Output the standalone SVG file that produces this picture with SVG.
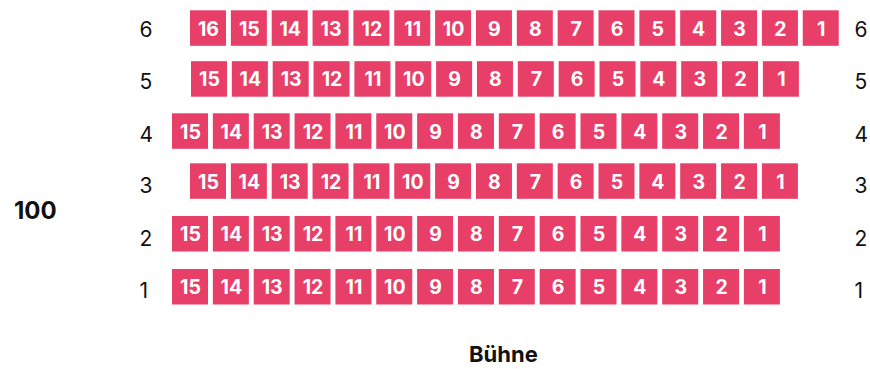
<svg xmlns="http://www.w3.org/2000/svg" width="870" height="369" viewBox="0 0 870 369">
<style>
.seat{fill:#e73f67}
.seat text{fill:#fff;font-family:Inter,"Liberation Sans",sans-serif;font-weight:700;font-size:19.5px;text-anchor:middle}
.lbl{fill:#111;font-family:Inter,"Liberation Sans",sans-serif;font-size:21px}
.ttl{fill:#111;font-family:Inter,"Liberation Sans",sans-serif;font-weight:700}
</style>
<defs><rect id="sq" width="36" height="35.5" fill="#e73f67"/></defs>
<rect width="870" height="369" fill="#fff"/>
<g id="row-labels">
<text class="lbl" x="139.5" y="36.7">6</text><text class="lbl" x="854.5" y="36.7">6</text>
<text class="lbl" x="139.5" y="89.3">5</text><text class="lbl" x="854.5" y="89.3">5</text>
<text class="lbl" x="139.5" y="141.7">4</text><text class="lbl" x="854.5" y="141.7">4</text>
<text class="lbl" x="139.5" y="193.3">3</text><text class="lbl" x="854.5" y="193.3">3</text>
<text class="lbl" x="139.5" y="246">2</text><text class="lbl" x="854.5" y="246">2</text>
<text class="lbl" x="139.5" y="298.3">1</text><text class="lbl" x="854.5" y="298.3">1</text>
</g>
<text id="block" class="ttl" x="14" y="219.3" font-size="24">100</text>
<text id="stage" class="ttl" x="469" y="361.7" font-size="22">Bühne</text>
<g id="row6" transform="translate(0,10.3)">
<g id="r6s16" class="seat" transform="translate(190,0)"><use href="#sq"/><text x="18.5" y="25.3">16</text></g>
<g id="r6s15" class="seat" transform="translate(230.85,0)"><use href="#sq"/><text x="18.5" y="25.3">15</text></g>
<g id="r6s14" class="seat" transform="translate(271.7,0)"><use href="#sq"/><text x="18.5" y="25.3">14</text></g>
<g id="r6s13" class="seat" transform="translate(312.55,0)"><use href="#sq"/><text x="18.5" y="25.3">13</text></g>
<g id="r6s12" class="seat" transform="translate(353.4,0)"><use href="#sq"/><text x="18.5" y="25.3">12</text></g>
<g id="r6s11" class="seat" transform="translate(394.25,0)"><use href="#sq"/><text x="18.5" y="25.3">11</text></g>
<g id="r6s10" class="seat" transform="translate(435.1,0)"><use href="#sq"/><text x="18.5" y="25.3">10</text></g>
<g id="r6s9" class="seat" transform="translate(475.95,0)"><use href="#sq"/><text x="18.5" y="25.3">9</text></g>
<g id="r6s8" class="seat" transform="translate(516.8,0)"><use href="#sq"/><text x="18.5" y="25.3">8</text></g>
<g id="r6s7" class="seat" transform="translate(557.65,0)"><use href="#sq"/><text x="18.5" y="25.3">7</text></g>
<g id="r6s6" class="seat" transform="translate(598.5,0)"><use href="#sq"/><text x="18.5" y="25.3">6</text></g>
<g id="r6s5" class="seat" transform="translate(639.35,0)"><use href="#sq"/><text x="18.5" y="25.3">5</text></g>
<g id="r6s4" class="seat" transform="translate(680.2,0)"><use href="#sq"/><text x="18.5" y="25.3">4</text></g>
<g id="r6s3" class="seat" transform="translate(721.05,0)"><use href="#sq"/><text x="18.5" y="25.3">3</text></g>
<g id="r6s2" class="seat" transform="translate(761.9,0)"><use href="#sq"/><text x="18.5" y="25.3">2</text></g>
<g id="r6s1" class="seat" transform="translate(802.75,0)"><use href="#sq"/><text x="18.5" y="25.3">1</text></g>
</g>
<g id="row5" transform="translate(1,61.2)">
<g id="r5s15" class="seat" transform="translate(190,0)"><use href="#sq"/><text x="18.5" y="25.3">15</text></g>
<g id="r5s14" class="seat" transform="translate(230.85,0)"><use href="#sq"/><text x="18.5" y="25.3">14</text></g>
<g id="r5s13" class="seat" transform="translate(271.7,0)"><use href="#sq"/><text x="18.5" y="25.3">13</text></g>
<g id="r5s12" class="seat" transform="translate(312.55,0)"><use href="#sq"/><text x="18.5" y="25.3">12</text></g>
<g id="r5s11" class="seat" transform="translate(353.4,0)"><use href="#sq"/><text x="18.5" y="25.3">11</text></g>
<g id="r5s10" class="seat" transform="translate(394.25,0)"><use href="#sq"/><text x="18.5" y="25.3">10</text></g>
<g id="r5s9" class="seat" transform="translate(435.1,0)"><use href="#sq"/><text x="18.5" y="25.3">9</text></g>
<g id="r5s8" class="seat" transform="translate(475.95,0)"><use href="#sq"/><text x="18.5" y="25.3">8</text></g>
<g id="r5s7" class="seat" transform="translate(516.8,0)"><use href="#sq"/><text x="18.5" y="25.3">7</text></g>
<g id="r5s6" class="seat" transform="translate(557.65,0)"><use href="#sq"/><text x="18.5" y="25.3">6</text></g>
<g id="r5s5" class="seat" transform="translate(598.5,0)"><use href="#sq"/><text x="18.5" y="25.3">5</text></g>
<g id="r5s4" class="seat" transform="translate(639.35,0)"><use href="#sq"/><text x="18.5" y="25.3">4</text></g>
<g id="r5s3" class="seat" transform="translate(680.2,0)"><use href="#sq"/><text x="18.5" y="25.3">3</text></g>
<g id="r5s2" class="seat" transform="translate(721.05,0)"><use href="#sq"/><text x="18.5" y="25.3">2</text></g>
<g id="r5s1" class="seat" transform="translate(761.9,0)"><use href="#sq"/><text x="18.5" y="25.3">1</text></g>
</g>
<g id="row4" transform="translate(-18,113.3)">
<g id="r4s15" class="seat" transform="translate(190,0)"><use href="#sq"/><text x="18.5" y="25.3">15</text></g>
<g id="r4s14" class="seat" transform="translate(230.85,0)"><use href="#sq"/><text x="18.5" y="25.3">14</text></g>
<g id="r4s13" class="seat" transform="translate(271.7,0)"><use href="#sq"/><text x="18.5" y="25.3">13</text></g>
<g id="r4s12" class="seat" transform="translate(312.55,0)"><use href="#sq"/><text x="18.5" y="25.3">12</text></g>
<g id="r4s11" class="seat" transform="translate(353.4,0)"><use href="#sq"/><text x="18.5" y="25.3">11</text></g>
<g id="r4s10" class="seat" transform="translate(394.25,0)"><use href="#sq"/><text x="18.5" y="25.3">10</text></g>
<g id="r4s9" class="seat" transform="translate(435.1,0)"><use href="#sq"/><text x="18.5" y="25.3">9</text></g>
<g id="r4s8" class="seat" transform="translate(475.95,0)"><use href="#sq"/><text x="18.5" y="25.3">8</text></g>
<g id="r4s7" class="seat" transform="translate(516.8,0)"><use href="#sq"/><text x="18.5" y="25.3">7</text></g>
<g id="r4s6" class="seat" transform="translate(557.65,0)"><use href="#sq"/><text x="18.5" y="25.3">6</text></g>
<g id="r4s5" class="seat" transform="translate(598.5,0)"><use href="#sq"/><text x="18.5" y="25.3">5</text></g>
<g id="r4s4" class="seat" transform="translate(639.35,0)"><use href="#sq"/><text x="18.5" y="25.3">4</text></g>
<g id="r4s3" class="seat" transform="translate(680.2,0)"><use href="#sq"/><text x="18.5" y="25.3">3</text></g>
<g id="r4s2" class="seat" transform="translate(721.05,0)"><use href="#sq"/><text x="18.5" y="25.3">2</text></g>
<g id="r4s1" class="seat" transform="translate(761.9,0)"><use href="#sq"/><text x="18.5" y="25.3">1</text></g>
</g>
<g id="row3" transform="translate(0,163.3)">
<g id="r3s15" class="seat" transform="translate(190,0)"><use href="#sq"/><text x="18.5" y="25.3">15</text></g>
<g id="r3s14" class="seat" transform="translate(230.85,0)"><use href="#sq"/><text x="18.5" y="25.3">14</text></g>
<g id="r3s13" class="seat" transform="translate(271.7,0)"><use href="#sq"/><text x="18.5" y="25.3">13</text></g>
<g id="r3s12" class="seat" transform="translate(312.55,0)"><use href="#sq"/><text x="18.5" y="25.3">12</text></g>
<g id="r3s11" class="seat" transform="translate(353.4,0)"><use href="#sq"/><text x="18.5" y="25.3">11</text></g>
<g id="r3s10" class="seat" transform="translate(394.25,0)"><use href="#sq"/><text x="18.5" y="25.3">10</text></g>
<g id="r3s9" class="seat" transform="translate(435.1,0)"><use href="#sq"/><text x="18.5" y="25.3">9</text></g>
<g id="r3s8" class="seat" transform="translate(475.95,0)"><use href="#sq"/><text x="18.5" y="25.3">8</text></g>
<g id="r3s7" class="seat" transform="translate(516.8,0)"><use href="#sq"/><text x="18.5" y="25.3">7</text></g>
<g id="r3s6" class="seat" transform="translate(557.65,0)"><use href="#sq"/><text x="18.5" y="25.3">6</text></g>
<g id="r3s5" class="seat" transform="translate(598.5,0)"><use href="#sq"/><text x="18.5" y="25.3">5</text></g>
<g id="r3s4" class="seat" transform="translate(639.35,0)"><use href="#sq"/><text x="18.5" y="25.3">4</text></g>
<g id="r3s3" class="seat" transform="translate(680.2,0)"><use href="#sq"/><text x="18.5" y="25.3">3</text></g>
<g id="r3s2" class="seat" transform="translate(721.05,0)"><use href="#sq"/><text x="18.5" y="25.3">2</text></g>
<g id="r3s1" class="seat" transform="translate(761.9,0)"><use href="#sq"/><text x="18.5" y="25.3">1</text></g>
</g>
<g id="row2" transform="translate(-18,216)">
<g id="r2s15" class="seat" transform="translate(190,0)"><use href="#sq"/><text x="18.5" y="25.3">15</text></g>
<g id="r2s14" class="seat" transform="translate(230.85,0)"><use href="#sq"/><text x="18.5" y="25.3">14</text></g>
<g id="r2s13" class="seat" transform="translate(271.7,0)"><use href="#sq"/><text x="18.5" y="25.3">13</text></g>
<g id="r2s12" class="seat" transform="translate(312.55,0)"><use href="#sq"/><text x="18.5" y="25.3">12</text></g>
<g id="r2s11" class="seat" transform="translate(353.4,0)"><use href="#sq"/><text x="18.5" y="25.3">11</text></g>
<g id="r2s10" class="seat" transform="translate(394.25,0)"><use href="#sq"/><text x="18.5" y="25.3">10</text></g>
<g id="r2s9" class="seat" transform="translate(435.1,0)"><use href="#sq"/><text x="18.5" y="25.3">9</text></g>
<g id="r2s8" class="seat" transform="translate(475.95,0)"><use href="#sq"/><text x="18.5" y="25.3">8</text></g>
<g id="r2s7" class="seat" transform="translate(516.8,0)"><use href="#sq"/><text x="18.5" y="25.3">7</text></g>
<g id="r2s6" class="seat" transform="translate(557.65,0)"><use href="#sq"/><text x="18.5" y="25.3">6</text></g>
<g id="r2s5" class="seat" transform="translate(598.5,0)"><use href="#sq"/><text x="18.5" y="25.3">5</text></g>
<g id="r2s4" class="seat" transform="translate(639.35,0)"><use href="#sq"/><text x="18.5" y="25.3">4</text></g>
<g id="r2s3" class="seat" transform="translate(680.2,0)"><use href="#sq"/><text x="18.5" y="25.3">3</text></g>
<g id="r2s2" class="seat" transform="translate(721.05,0)"><use href="#sq"/><text x="18.5" y="25.3">2</text></g>
<g id="r2s1" class="seat" transform="translate(761.9,0)"><use href="#sq"/><text x="18.5" y="25.3">1</text></g>
</g>
<g id="row1" transform="translate(-18,269)">
<g id="r1s15" class="seat" transform="translate(190,0)"><use href="#sq"/><text x="18.5" y="25.3">15</text></g>
<g id="r1s14" class="seat" transform="translate(230.85,0)"><use href="#sq"/><text x="18.5" y="25.3">14</text></g>
<g id="r1s13" class="seat" transform="translate(271.7,0)"><use href="#sq"/><text x="18.5" y="25.3">13</text></g>
<g id="r1s12" class="seat" transform="translate(312.55,0)"><use href="#sq"/><text x="18.5" y="25.3">12</text></g>
<g id="r1s11" class="seat" transform="translate(353.4,0)"><use href="#sq"/><text x="18.5" y="25.3">11</text></g>
<g id="r1s10" class="seat" transform="translate(394.25,0)"><use href="#sq"/><text x="18.5" y="25.3">10</text></g>
<g id="r1s9" class="seat" transform="translate(435.1,0)"><use href="#sq"/><text x="18.5" y="25.3">9</text></g>
<g id="r1s8" class="seat" transform="translate(475.95,0)"><use href="#sq"/><text x="18.5" y="25.3">8</text></g>
<g id="r1s7" class="seat" transform="translate(516.8,0)"><use href="#sq"/><text x="18.5" y="25.3">7</text></g>
<g id="r1s6" class="seat" transform="translate(557.65,0)"><use href="#sq"/><text x="18.5" y="25.3">6</text></g>
<g id="r1s5" class="seat" transform="translate(598.5,0)"><use href="#sq"/><text x="18.5" y="25.3">5</text></g>
<g id="r1s4" class="seat" transform="translate(639.35,0)"><use href="#sq"/><text x="18.5" y="25.3">4</text></g>
<g id="r1s3" class="seat" transform="translate(680.2,0)"><use href="#sq"/><text x="18.5" y="25.3">3</text></g>
<g id="r1s2" class="seat" transform="translate(721.05,0)"><use href="#sq"/><text x="18.5" y="25.3">2</text></g>
<g id="r1s1" class="seat" transform="translate(761.9,0)"><use href="#sq"/><text x="18.5" y="25.3">1</text></g>
</g>
</svg>
